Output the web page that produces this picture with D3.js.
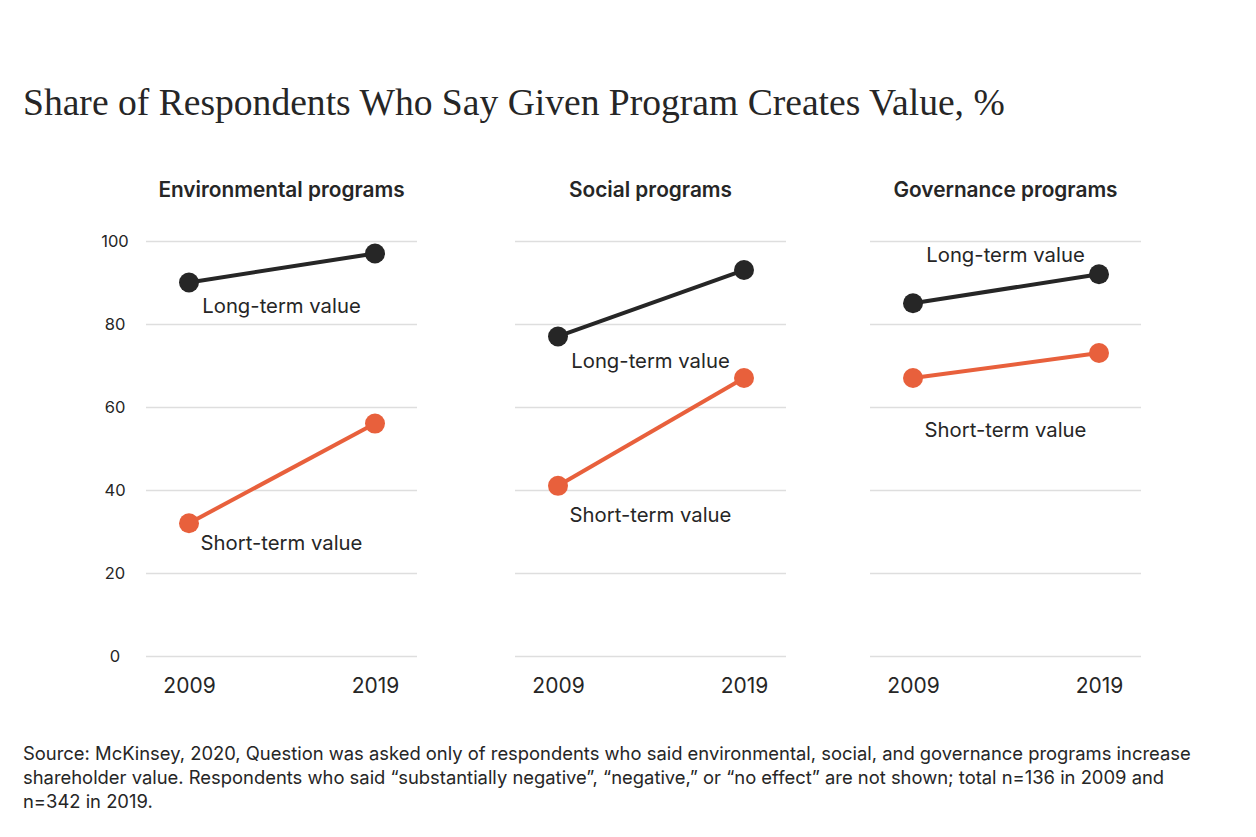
<!DOCTYPE html>
<html>
<head>
<meta charset="utf-8">
<script src="https://cdn.jsdelivr.net/npm/d3@7"></script>
<style>
  body { margin: 0; background: #fff; }
  .chart text { font-family: Inter, "Liberation Sans", sans-serif; fill: #262626; }
</style>
</head>
<body>
<div class="chart"></div>
<script>
// values
const panels = ["Environmental programs", "Social programs", "Governance programs"];
const years = ["2009", "2019"];
const longTerm = [[90, 97], [77, 93], [85, 92]];
const shortTerm = [[32, 56], [41, 67], [67, 73]];
const yTicks = [0, 20, 40, 60, 80, 100];
const seriesNames = ["Long-term value", "Short-term value"];

const title = "Share of Respondents Who Say Given Program Creates Value, %";
const note = [
    "Source: McKinsey, 2020, Question was asked only of respondents who said environmental, social, and governance programs increase",
    "shareholder value. Respondents who said \u201csubstantially negative\u201d, \u201cnegative,\u201d or \u201cno effect\u201d are not shown; total n=136 in 2009 and",
    "n=342 in 2019."
];

const width = 1256, height = 837;
const panelLeft = [146, 515, 870];
const panelWidth = 271;
// where each series label sits, in value units, per panel
const labelLevel = {
    long: [82.7, 69.4, 94.9],
    short: [25.5, 32.3, 52.8]
};
const colors = { long: "#262626", short: "#e8603c" };

const svg = d3.select(".chart")
    .append("svg")
    .attr("width", width)
    .attr("height", height);

svg.append("text")
    .attr("x", 23)
    .attr("y", 115)
    .style("font-family", "'Liberation Serif', 'DejaVu Serif', serif")
    .style("font-size", "37.6px")
    .attr("fill", "#2a2a2a")
    .text(title);

const y = d3.scaleLinear()
    .domain([0, 100])
    .range([656, 241]);

const x = d3.scalePoint()
    .domain(years)
    .range([43, 229]);

panels.forEach((name, p) => {
    const g = svg.append("g")
        .attr("transform", `translate(${panelLeft[p]},0)`);

    g.append("text")
        .attr("x", panelWidth / 2)
        .attr("y", 197)
        .attr("text-anchor", "middle")
        .style("font-size", "20.8px")
        .style("font-weight", 600)
        .text(name);

    // gridlines + y labels
    const yAxis = g.append("g")
        .call(d3.axisLeft(y).tickValues(yTicks).tickSize(-panelWidth).tickPadding(31));
    yAxis.select(".domain").remove();
    yAxis.selectAll(".tick line")
        .attr("stroke", "#dedede")
        .attr("stroke-width", 1.5);
    yAxis.selectAll(".tick text")
        .attr("text-anchor", "middle")
        .style("font-size", "16.5px")
        .style("font-family", "Inter, sans-serif")
        .attr("fill", "#333");
    if (p > 0) yAxis.selectAll(".tick text").remove();

    const xAxis = g.append("g")
        .attr("transform", `translate(0,${y(0)})`)
        .call(d3.axisBottom(x).tickSize(0));
    xAxis.select(".domain").remove();
    xAxis.selectAll("text")
        .attr("y", 37)
        .attr("dy", 0)
        .style("font-size", "21px")
        .style("font-family", "Inter, sans-serif")
        .attr("fill", "#262626");

    const line = d3.line()
        .x((d, i) => x(years[i]))
        .y(d => y(d));

    [["long", longTerm[p], seriesNames[0]], ["short", shortTerm[p], seriesNames[1]]].forEach(([key, vals, label]) => {
        g.append("path")
            .datum(vals)
            .attr("d", line)
            .attr("fill", "none")
            .attr("stroke", colors[key])
            .attr("stroke-width", 4);

        g.selectAll(".dot-" + key)
            .data(vals)
            .enter()
            .append("circle")
            .attr("class", "dot-" + key)
            .attr("cx", (d, i) => x(years[i]))
            .attr("cy", d => y(d))
            .attr("r", 10)
            .attr("fill", colors[key]);

        g.append("text")
            .attr("x", panelWidth / 2)
            .attr("y", y(labelLevel[key][p]))
            .attr("text-anchor", "middle")
            .style("font-size", "20.3px")
            .text(label);
    });
});

svg.append("g")
    .selectAll("text")
    .data(note)
    .enter()
    .append("text")
    .attr("x", 23)
    .attr("y", (d, i) => 760 + i * 24)
    .style("font-size", "18.4px")
    .attr("fill", "#333")
    .text(d => d);
</script>
</body>
</html>
